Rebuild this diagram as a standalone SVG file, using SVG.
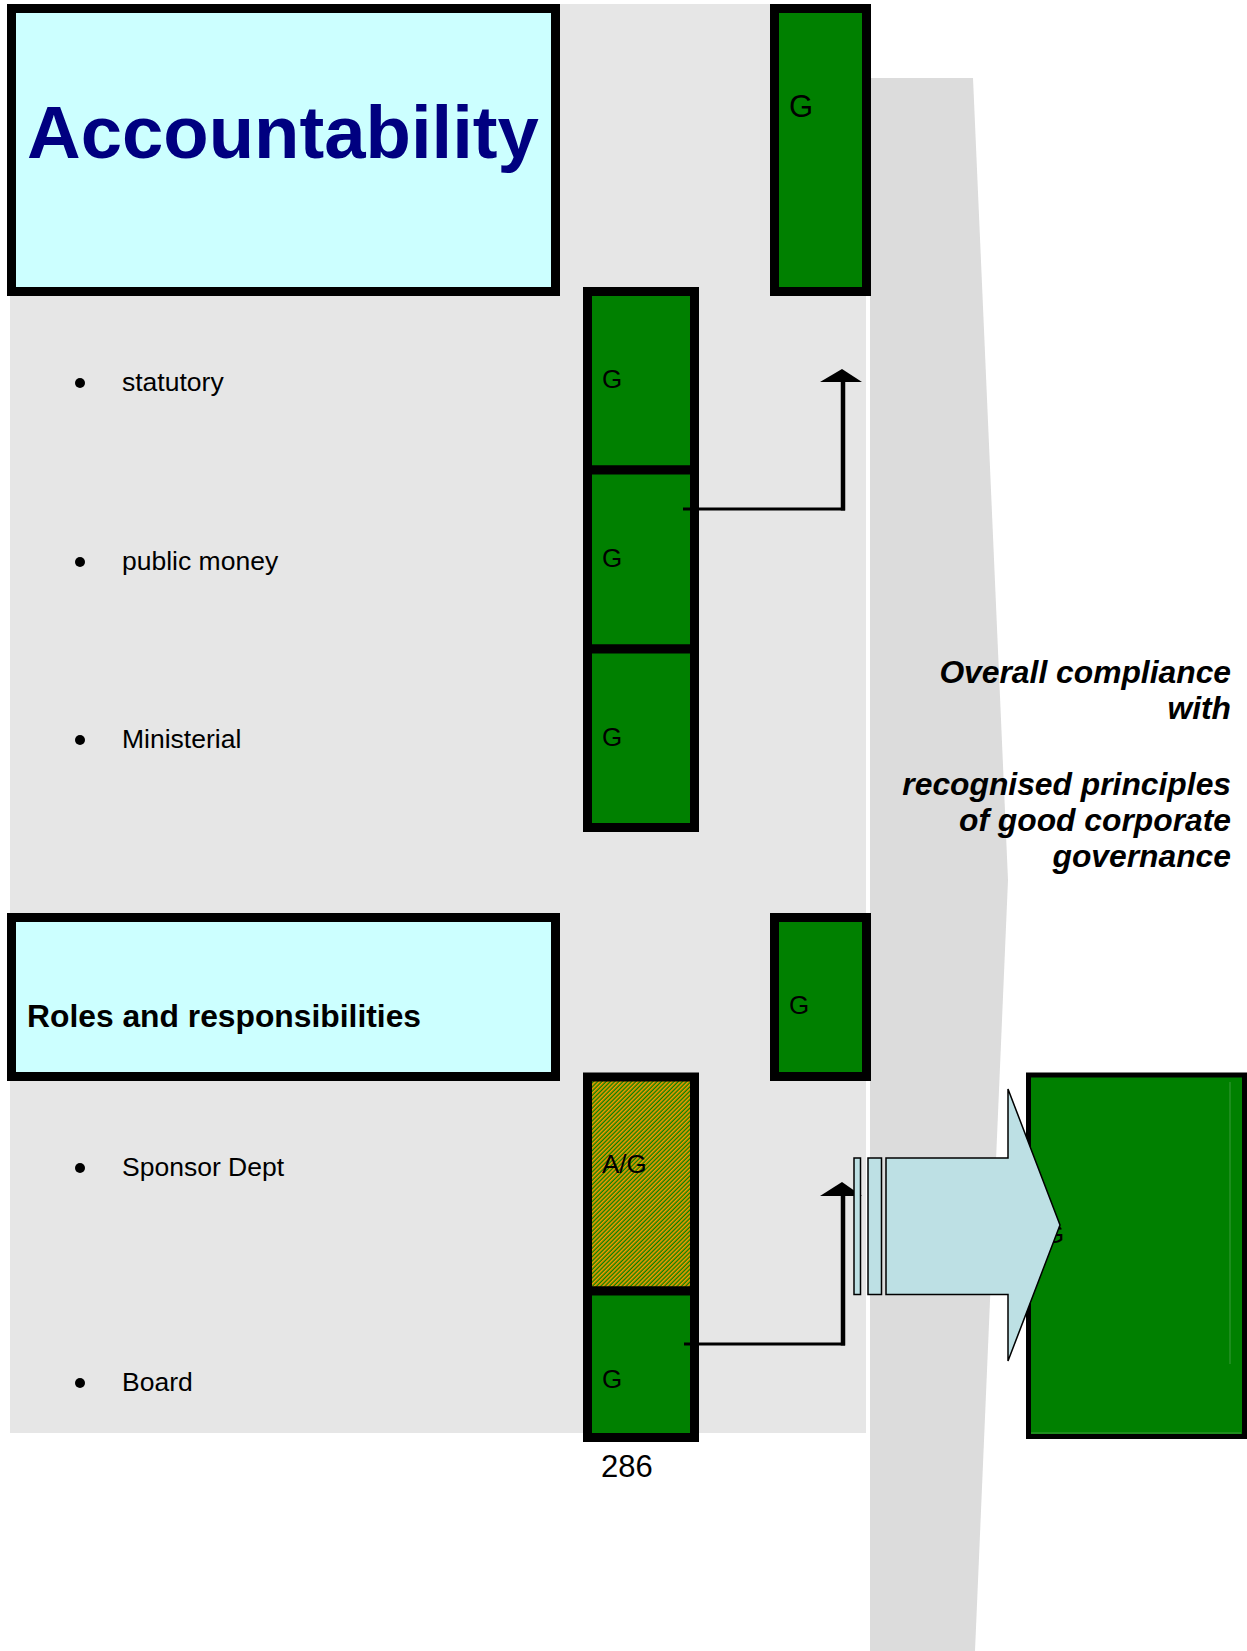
<svg xmlns="http://www.w3.org/2000/svg" width="1247" height="1651" viewBox="0 0 1247 1651">
  <style>
    .title { fill: #ccffff; stroke: #000; stroke-width: 9; }
    .status { fill: #008000; stroke: #000; stroke-width: 9; }
    .lbl { font-family: "Liberation Sans", Arial, sans-serif; font-size: 26px; fill: #000; }
    .item { font-family: "Liberation Sans", Arial, sans-serif; font-size: 26.5px; fill: #000; }
    .note { font-family: "Liberation Sans", Arial, sans-serif; font-size: 31.8px; font-weight: bold; font-style: italic; fill: #000; text-anchor: end; }
    .wire { fill: none; stroke: #000; stroke-linecap: butt; }
    .tip { fill: #000; }
    .block { fill: #bde0e4; stroke: #000; stroke-width: 1.5; }
  </style>
  <defs>
    <pattern id="amberGreen" patternUnits="userSpaceOnUse" width="3" height="3" patternTransform="rotate(45)">
      <rect width="3" height="3" fill="#0a8000"/>
      <rect width="1.6" height="3" fill="#f89a00"/>
    </pattern>
  </defs>

  <rect width="1247" height="1651" fill="#fff"/>

  <!-- table background -->
  <rect x="10" y="4" width="856" height="1429" fill="#e6e6e6"/>

  <!-- summary band on the right -->
  <polygon points="870,78 973,78 1008,880 975,1651 870,1651" fill="#dcdcdc"/>

  <!-- section headers -->
  <g id="accountability">
    <rect class="title" x="11.5" y="8.5" width="544" height="283"/>
    <text x="27" y="158" font-family="Liberation Sans, Arial, sans-serif" font-size="74.3" font-weight="bold" fill="#000080">Accountability</text>
  </g>
  <g id="roles">
    <rect class="title" x="11.5" y="917.5" width="544" height="159"/>
    <text x="27" y="1027" font-family="Liberation Sans, Arial, sans-serif" font-size="31.8" font-weight="bold" fill="#000">Roles and responsibilities</text>
  </g>

  <!-- section ratings -->
  <g id="accountability-rating">
    <rect class="status" x="774.5" y="8.5" width="92" height="283"/>
    <text class="lbl" x="789" y="117" style="font-size:31px">G</text>
  </g>
  <g id="roles-rating">
    <rect class="status" x="774.5" y="917.5" width="92" height="159"/>
    <text class="lbl" x="789" y="1014">G</text>
  </g>

  <!-- accountability items -->
  <g id="item-statutory">
    <circle cx="80" cy="383" r="5"/>
    <text class="item" x="122" y="391">statutory</text>
  </g>
  <g id="item-public-money">
    <circle cx="80" cy="562" r="5"/>
    <text class="item" x="122" y="570">public money</text>
  </g>
  <g id="item-ministerial">
    <circle cx="80" cy="740" r="5"/>
    <text class="item" x="122" y="748">Ministerial</text>
  </g>

  <!-- roles items -->
  <g id="item-sponsor-dept">
    <circle cx="80" cy="1168" r="5"/>
    <text class="item" x="122" y="1176">Sponsor Dept</text>
  </g>
  <g id="item-board">
    <circle cx="80" cy="1383" r="5"/>
    <text class="item" x="122" y="1391">Board</text>
  </g>

  <!-- item ratings -->
  <g id="rating-statutory">
    <rect class="status" x="587.5" y="291.5" width="107" height="178.5"/>
    <text class="lbl" x="602" y="388">G</text>
  </g>
  <g id="rating-public-money">
    <rect class="status" x="587.5" y="470" width="107" height="179"/>
    <text class="lbl" x="602" y="567">G</text>
  </g>
  <g id="rating-ministerial">
    <rect class="status" x="587.5" y="649" width="107" height="178.5"/>
    <text class="lbl" x="602" y="746">G</text>
  </g>
  <g id="rating-sponsor-dept">
    <rect class="status" x="587.5" y="1077" width="107" height="214" style="fill:url(#amberGreen)"/>
    <text class="lbl" x="602" y="1173">A/G</text>
  </g>
  <g id="rating-board">
    <rect class="status" x="587.5" y="1291" width="107" height="146.5"/>
    <text class="lbl" x="602" y="1388">G</text>
  </g>

  <!-- overall rating -->
  <g id="overall-rating">
    <rect x="1028.5" y="1075" width="216" height="361.5" fill="#008000" stroke="#000" stroke-width="5"/>
    <line x1="1230" y1="1082" x2="1230" y2="1364" stroke="#3a9a3a" stroke-width="1"/>
    <line x1="1031" y1="1433" x2="1241" y2="1433" stroke="#3a9a3a" stroke-width="1"/>
    <text class="lbl" x="1044" y="1243">G</text>
  </g>

  <g id="overall-note">
    <text class="note" x="1231" y="683">Overall compliance</text>
    <text class="note" x="1231" y="719">with</text>
    <text class="note" x="1231" y="795">recognised principles</text>
    <text class="note" x="1231" y="831">of good corporate</text>
    <text class="note" x="1231" y="867">governance</text>
  </g>

  <g id="page-number">
    <text class="item" x="601" y="1477" style="font-size:31px">286</text>
  </g>

  <!-- connectors -->
  <g id="connectors">
    <line class="wire" x1="683" y1="509" x2="845" y2="509" stroke-width="3"/>
    <line class="wire" x1="843" y1="510.5" x2="843" y2="380" stroke-width="4.5"/>
    <polygon class="tip" points="820,382 842,369 862,382"/>

    <line class="wire" x1="684" y1="1344" x2="845" y2="1344" stroke-width="3"/>
    <line class="wire" x1="843" y1="1345.5" x2="843" y2="1194" stroke-width="4.5"/>
    <polygon class="tip" points="820,1196 842,1182 862,1196"/>

    <!-- striped block arrow into the overall rating -->
    <rect class="block" x="854" y="1158" width="6.5" height="136.5"/>
    <rect class="block" x="868" y="1158" width="13.5" height="136.5"/>
    <polygon class="block" points="886,1158 1008,1158 1008,1089 1060,1225 1008,1361 1008,1294.5 886,1294.5"/>
  </g>
</svg>
